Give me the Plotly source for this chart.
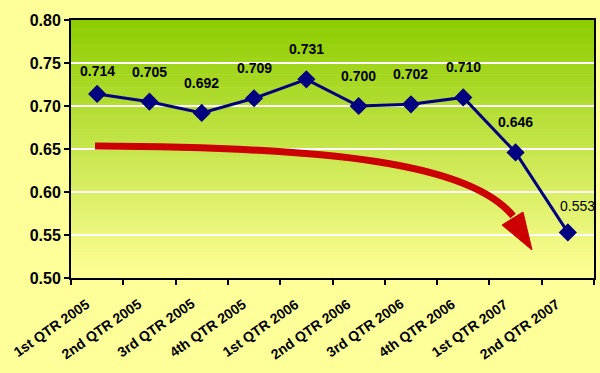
import plotly.graph_objects as go

categories = ["1st QTR 2005", "2nd QTR 2005", "3rd QTR 2005", "4th QTR 2005",
              "1st QTR 2006", "2nd QTR 2006", "3rd QTR 2006", "4th QTR 2006",
              "1st QTR 2007", "2nd QTR 2007"]
values = [0.714, 0.705, 0.692, 0.709, 0.731, 0.700, 0.702, 0.710, 0.646, 0.553]
y_ticks = [0.50, 0.55, 0.60, 0.65, 0.70, 0.75, 0.80]

FONT = "Liberation Sans, Arial, sans-serif"
NAVY = "#000080"

fig = go.Figure()
fig.add_trace(go.Scatter(
    x=categories, y=values, mode="lines+markers",
    line=dict(color=NAVY, width=3),
    marker=dict(symbol="diamond", size=14, color=NAVY),
    hoverinfo="skip", showlegend=False,
))

# data labels
label_shift = [(0, 23)] + [(0, 30)] * 8 + [(10, 26)]
for i, (c, v) in enumerate(zip(categories, values)):
    dx, dy = label_shift[i]
    last = i == len(values) - 1
    fig.add_annotation(
        x=c, y=v, text=f"{v:.3f}" if last else f"<b>{v:.3f}</b>",
        showarrow=False, xshift=dx, yshift=dy,
        font=dict(family=FONT, size=14, color="black"),
    )

# rotated category labels
for c in categories:
    fig.add_annotation(
        x=c, xref="x", y=0, yref="paper", text=f"<b>{c}</b>",
        textangle=-35, xanchor="right", yanchor="top",
        xshift=-2, yshift=-15, showarrow=False,
        font=dict(family=FONT, size=14, color="black"),
    )

# gradient background of plot area (green top -> yellow bottom)
top = (140, 204, 0)
bot = (255, 255, 150)
n = 80
shapes = []
for k in range(n):
    t = k / (n - 1)
    col = tuple(int(round(top[j] + (bot[j] - top[j]) * t)) for j in range(3))
    shapes.append(dict(
        type="rect", xref="paper", yref="paper",
        x0=0, x1=1, y0=1 - (k + 1) / n, y1=1 - k / n + 0.002,
        fillcolor=f"rgb{col}", line=dict(width=0), layer="below",
    ))

# red curved arrow (pixel layout: plot area x 71..594, y 20..278)
L, R, T, B = 71, 594, 20, 278
def px(x):
    return (x - L) / (R - L)
def py(y):
    return (B - y) / (B - T)

shaft = (f"M {px(95)},{py(146)} C {px(330)},{py(147)} {px(470)},{py(163)} "
         f"{px(513)},{py(216)}")
shapes.append(dict(type="path", xref="paper", yref="paper", path=shaft,
                   line=dict(color="#CC0000", width=7), layer="above"))
head = (f"M {px(502)},{py(225)} L {px(523)},{py(212)} L {px(532)},{py(250)} Z")
shapes.append(dict(type="path", xref="paper", yref="paper", path=head,
                   fillcolor="#CC0000", line=dict(color="#CC0000", width=1),
                   layer="above"))

fig.update_layout(
    width=600, height=373,
    margin=dict(l=71, r=6, t=20, b=95),
    paper_bgcolor="#FFFF99",
    plot_bgcolor="#FFFF99",
    shapes=shapes,
    font=dict(family=FONT, color="black"),
)
fig.update_xaxes(
    type="category", automargin=False, autorange=False,
    range=[-0.5, len(categories) - 0.5],
    tickmode="array", tickvals=categories, ticktext=[""] * len(categories),
    showline=True, linecolor="black", linewidth=2, mirror=True,
    ticks="outside", tickson="boundaries", ticklen=5, tickcolor="black",
    tickwidth=1.5, showgrid=False,
)
fig.update_yaxes(
    range=[0.50, 0.80], tickvals=y_ticks, tickformat=".2f", automargin=False,
    showline=True, linecolor="black", linewidth=2, mirror=True,
    ticks="outside", ticklen=5, tickcolor="black", tickwidth=1.5,
    showgrid=True, gridcolor="white", gridwidth=1.5, zeroline=False,
    tickfont=dict(family=FONT, size=16, color="black", weight="bold"),
)

fig.write_html("out.html", config={"displayModeBar": False},
               post_script="document.body.style.margin='0px';")
